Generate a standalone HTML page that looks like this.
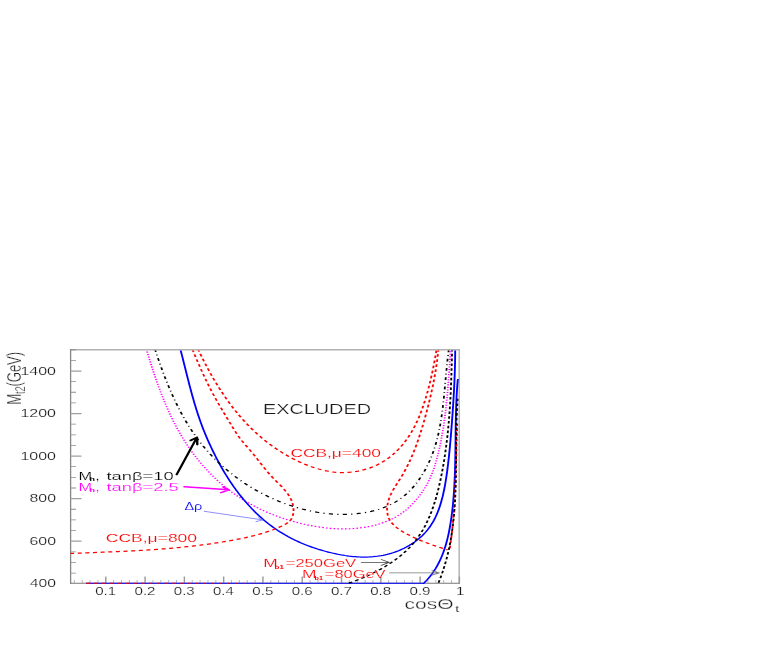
<!DOCTYPE html>
<html><head><meta charset="utf-8"><title>plot</title>
<style>html,body{margin:0;padding:0;background:#fff;width:763px;height:654px;overflow:hidden;font-family:"Liberation Sans",sans-serif}</style>
</head><body>
<svg width="763" height="654" viewBox="0 0 763 654" style="position:absolute;left:0;top:0;will-change:transform" font-family="Liberation Sans, sans-serif">
<defs><clipPath id="cp"><rect x="47.00" y="350.4" width="259.53" height="233.5"/></clipPath></defs>
<g transform="scale(1.500 1)" opacity="0.999">
<g fill="none">
<path d="M47.00 349.70 H306.20" stroke="#b2b2b2" stroke-width="1.4"/>
<path d="M306.13 349.00 V584.00" stroke="#b0b0b0" stroke-width="0.93"/>
<path d="M47.07 349.00 V583.80" stroke="#868686" stroke-width="0.87"/>
<path d="M46.67 583.30 H306.53" stroke="#777" stroke-width="1.0"/>
<path d="M49.57 583.3 v-3.3M54.81 583.3 v-3.3M60.05 583.3 v-3.3M65.29 583.3 v-3.3M75.77 583.3 v-3.3M81.00 583.3 v-3.3M86.24 583.3 v-3.3M91.48 583.3 v-3.3M101.96 583.3 v-3.3M107.20 583.3 v-3.3M112.44 583.3 v-3.3M117.67 583.3 v-3.3M128.15 583.3 v-3.3M133.39 583.3 v-3.3M138.63 583.3 v-3.3M143.87 583.3 v-3.3M154.35 583.3 v-3.3M159.58 583.3 v-3.3M164.82 583.3 v-3.3M170.06 583.3 v-3.3M180.54 583.3 v-3.3M185.78 583.3 v-3.3M191.02 583.3 v-3.3M196.25 583.3 v-3.3M206.73 583.3 v-3.3M211.97 583.3 v-3.3M217.21 583.3 v-3.3M222.45 583.3 v-3.3M232.93 583.3 v-3.3M238.16 583.3 v-3.3M243.40 583.3 v-3.3M248.64 583.3 v-3.3M259.12 583.3 v-3.3M264.36 583.3 v-3.3M269.60 583.3 v-3.3M274.83 583.3 v-3.3M285.31 583.3 v-3.3M290.55 583.3 v-3.3M295.79 583.3 v-3.3M301.03 583.3 v-3.3" stroke="#999" stroke-width="0.55"/>
<path d="M70.53 583.3 v-6.7M96.72 583.3 v-6.7M122.91 583.3 v-6.7M149.11 583.3 v-6.7M175.30 583.3 v-6.7M201.49 583.3 v-6.7M227.69 583.3 v-6.7M253.88 583.3 v-6.7M280.07 583.3 v-6.7M306.27 583.3 v-6.7" stroke="#9a9a9a" stroke-width="0.95"/>
<path d="M47.00 573.07 h3.67M47.00 562.43 h3.67M47.00 551.80 h3.67M47.00 530.53 h3.67M47.00 519.89 h3.67M47.00 509.26 h3.67M47.00 487.99 h3.67M47.00 477.35 h3.67M47.00 466.72 h3.67M47.00 445.45 h3.67M47.00 434.81 h3.67M47.00 424.18 h3.67M47.00 402.91 h3.67M47.00 392.27 h3.67M47.00 381.64 h3.67M47.00 360.37 h3.67M47.00 349.73 h3.67" stroke="#8c8c8c" stroke-width="0.8"/>
<path d="M47.00 541.16 h7.33M47.00 498.62 h7.33M47.00 456.08 h7.33M47.00 413.54 h7.33M47.00 371.00 h7.33" stroke="#a0a0a0" stroke-width="1.25"/>
</g>
<g clip-path="url(#cp)" fill="none" stroke-linecap="butt" stroke-linejoin="round">
<path d="M97.59 349.00 L97.97 350.92 L98.35 352.84 L98.73 354.75 L99.12 356.67 L99.51 358.59 L99.91 360.51 L100.31 362.43 L100.71 364.35 L101.11 366.27 L101.53 368.19 L101.94 370.10 L102.36 372.02 L102.78 373.93 L103.21 375.84 L103.65 377.75 L104.09 379.65 L104.53 381.56 L104.98 383.46 L105.44 385.36 L105.90 387.25 L106.37 389.14 L106.84 391.03 L107.33 392.92 L107.81 394.80 L108.31 396.67 L108.81 398.54 L109.32 400.41 L109.83 402.27 L110.35 404.13 L110.88 405.98 L111.42 407.83 L111.96 409.66 L112.52 411.50 L113.08 413.33 L113.65 415.15 L114.23 416.96 L114.81 418.77 L115.41 420.57 L116.01 422.36 L116.63 424.15 L117.25 425.93 L117.88 427.70 L118.52 429.46 L119.17 431.21 L119.83 432.96 L120.50 434.69 L121.19 436.42 L121.88 438.14 L122.58 439.84 L123.29 441.54 L124.02 443.23 L124.75 444.91 L125.50 446.58 L126.25 448.23 L127.02 449.88 L127.80 451.51 L128.60 453.14 L129.40 454.75 L130.22 456.35 L131.04 457.94 L131.88 459.51 L132.73 461.08 L133.59 462.63 L134.46 464.16 L135.35 465.69 L136.24 467.19 L137.15 468.69 L138.06 470.17 L138.99 471.63 L139.92 473.08 L140.87 474.52 L141.83 475.94 L142.80 477.34 L143.77 478.73 L144.76 480.10 L145.76 481.45 L146.77 482.78 L147.79 484.10 L148.81 485.40 L149.85 486.68 L150.89 487.95 L151.95 489.19 L153.01 490.42 L154.09 491.62 L155.17 492.81 L156.26 493.98 L157.36 495.12 L158.47 496.25 L159.59 497.36 L160.71 498.45 L161.85 499.52 L162.99 500.57 L164.13 501.61 L165.29 502.62 L166.45 503.61 L167.63 504.59 L168.80 505.54 L169.99 506.48 L171.18 507.40 L172.38 508.29 L173.58 509.17 L174.80 510.03 L176.01 510.87 L177.24 511.70 L178.47 512.50 L179.70 513.28 L180.94 514.05 L182.19 514.80 L183.44 515.53 L184.70 516.24 L185.96 516.93 L187.22 517.60 L188.49 518.25 L189.77 518.89 L191.05 519.50 L192.33 520.10 L193.62 520.68 L194.91 521.24 L196.20 521.78 L197.50 522.30 L198.80 522.81 L200.11 523.30 L201.42 523.77 L202.73 524.22 L204.04 524.65 L205.36 525.06 L206.68 525.46 L208.00 525.83 L209.32 526.19 L210.65 526.53 L211.97 526.84 L213.30 527.14 L214.63 527.41 L215.97 527.67 L217.30 527.90 L218.64 528.10 L219.97 528.29 L221.31 528.45 L222.65 528.58 L223.99 528.70 L225.33 528.78 L226.67 528.84 L228.01 528.88 L229.35 528.88 L230.70 528.86 L232.04 528.81 L233.38 528.74 L234.72 528.63 L236.07 528.50 L237.41 528.33 L238.75 528.14 L240.09 527.91 L241.43 527.65 L242.76 527.36 L244.09 527.04 L245.42 526.68 L246.74 526.28 L248.05 525.85 L249.36 525.38 L250.66 524.88 L251.95 524.34 L253.23 523.76 L254.50 523.14 L255.76 522.48 L257.01 521.77 L258.24 521.03 L259.46 520.24 L260.67 519.41 L261.86 518.54 L263.04 517.62 L264.20 516.65 L265.34 515.64 L266.46 514.58 L267.57 513.47 L268.65 512.31 L269.72 511.11 L270.76 509.85 L271.78 508.54 L272.78 507.19 L273.76 505.80 L274.72 504.36 L275.66 502.89 L276.57 501.38 L277.46 499.85 L278.34 498.28 L279.19 496.68 L280.02 495.06 L280.82 493.42 L281.60 491.75 L282.35 490.05 L283.08 488.34 L283.79 486.60 L284.46 484.84 L285.11 483.06 L285.73 481.27 L286.32 479.46 L286.89 477.63 L287.42 475.79 L287.93 473.94 L288.41 472.07 L288.87 470.19 L289.31 468.30 L289.73 466.40 L290.13 464.49 L290.51 462.57 L290.88 460.64 L291.23 458.71 L291.57 456.77 L291.90 454.83 L292.22 452.88 L292.53 450.93 L292.83 448.97 L293.13 447.01 L293.41 445.05 L293.68 443.08 L293.95 441.11 L294.21 439.14 L294.46 437.17 L294.70 435.19 L294.93 433.20 L295.16 431.22 L295.38 429.23 L295.59 427.24 L295.80 425.25 L296.00 423.26 L296.19 421.26 L296.38 419.26 L296.55 417.26 L296.73 415.26 L296.90 413.26 L297.06 411.25 L297.22 409.25 L297.37 407.24 L297.52 405.23 L297.66 403.22 L297.80 401.21 L297.93 399.20 L298.06 397.19 L298.18 395.17 L298.30 393.16 L298.42 391.15 L298.54 389.13 L298.65 387.12 L298.76 385.11 L298.86 383.09 L298.97 381.08 L299.07 379.07 L299.16 377.06 L299.26 375.04 L299.36 373.03 L299.45 371.02 L299.54 369.02 L299.63 367.01 L299.72 365.00 L299.81 363.00 L299.90 360.99 L299.98 358.99 L300.07 356.99 L300.16 355.00 L300.25 353.00 L300.33 351.01 L300.42 349.01" stroke="#ff00ff" stroke-width="1.2" stroke-dasharray="1.1 1.45"/>
<path d="M120.21 349.00 L120.55 350.94 L120.88 352.88 L121.22 354.82 L121.55 356.77 L121.88 358.72 L122.20 360.67 L122.53 362.62 L122.86 364.57 L123.18 366.52 L123.51 368.47 L123.83 370.42 L124.16 372.38 L124.49 374.33 L124.82 376.29 L125.15 378.24 L125.48 380.19 L125.81 382.15 L126.15 384.10 L126.49 386.05 L126.83 388.00 L127.18 389.94 L127.53 391.89 L127.88 393.83 L128.24 395.77 L128.60 397.71 L128.97 399.65 L129.34 401.58 L129.72 403.51 L130.10 405.44 L130.49 407.36 L130.89 409.28 L131.29 411.19 L131.70 413.11 L132.12 415.01 L132.55 416.91 L132.98 418.81 L133.42 420.70 L133.87 422.59 L134.33 424.47 L134.79 426.35 L135.27 428.22 L135.76 430.08 L136.25 431.94 L136.76 433.79 L137.27 435.64 L137.79 437.48 L138.32 439.32 L138.86 441.15 L139.41 442.97 L139.97 444.79 L140.53 446.61 L141.10 448.41 L141.68 450.22 L142.27 452.02 L142.86 453.81 L143.46 455.60 L144.07 457.39 L144.69 459.16 L145.31 460.94 L145.95 462.70 L146.59 464.46 L147.24 466.22 L147.90 467.97 L148.57 469.71 L149.24 471.44 L149.93 473.16 L150.63 474.88 L151.34 476.59 L152.05 478.29 L152.78 479.98 L153.52 481.67 L154.27 483.34 L155.03 485.00 L155.81 486.66 L156.59 488.30 L157.38 489.93 L158.19 491.55 L159.01 493.16 L159.83 494.76 L160.67 496.34 L161.52 497.91 L162.38 499.47 L163.25 501.01 L164.13 502.54 L165.02 504.05 L165.92 505.55 L166.84 507.03 L167.76 508.49 L168.70 509.94 L169.64 511.36 L170.60 512.78 L171.57 514.17 L172.55 515.54 L173.53 516.90 L174.53 518.23 L175.54 519.54 L176.57 520.84 L177.60 522.11 L178.64 523.36 L179.69 524.59 L180.76 525.79 L181.83 526.98 L182.92 528.14 L184.01 529.27 L185.12 530.38 L186.23 531.47 L187.36 532.53 L188.50 533.57 L189.64 534.59 L190.80 535.58 L191.96 536.55 L193.14 537.49 L194.32 538.42 L195.51 539.32 L196.71 540.20 L197.92 541.05 L199.13 541.88 L200.36 542.69 L201.59 543.48 L202.83 544.25 L204.07 544.99 L205.32 545.72 L206.58 546.42 L207.84 547.10 L209.12 547.76 L210.39 548.40 L211.67 549.02 L212.96 549.61 L214.25 550.19 L215.55 550.75 L216.85 551.29 L218.16 551.80 L219.47 552.30 L220.79 552.78 L222.10 553.23 L223.43 553.67 L224.75 554.09 L226.08 554.48 L227.41 554.85 L228.75 555.19 L230.08 555.51 L231.42 555.80 L232.76 556.07 L234.10 556.30 L235.44 556.51 L236.78 556.68 L238.12 556.82 L239.46 556.93 L240.81 557.01 L242.15 557.05 L243.49 557.05 L244.82 557.02 L246.16 556.95 L247.49 556.83 L248.83 556.68 L250.16 556.49 L251.48 556.25 L252.81 555.98 L254.13 555.65 L255.45 555.28 L256.76 554.87 L258.07 554.41 L259.37 553.90 L260.66 553.34 L261.95 552.74 L263.23 552.10 L264.49 551.41 L265.74 550.67 L266.99 549.89 L268.21 549.07 L269.42 548.20 L270.62 547.29 L271.79 546.33 L272.95 545.33 L274.09 544.29 L275.20 543.20 L276.30 542.07 L277.37 540.90 L278.41 539.68 L279.43 538.43 L280.43 537.13 L281.39 535.79 L282.33 534.41 L283.23 532.99 L284.11 531.53 L284.95 530.02 L285.75 528.48 L286.53 526.90 L287.26 525.27 L287.97 523.62 L288.64 521.92 L289.28 520.20 L289.89 518.44 L290.48 516.65 L291.03 514.83 L291.56 512.99 L292.06 511.12 L292.54 509.23 L292.99 507.32 L293.42 505.39 L293.82 503.43 L294.21 501.47 L294.57 499.48 L294.92 497.49 L295.25 495.48 L295.56 493.46 L295.85 491.44 L296.13 489.40 L296.40 487.36 L296.65 485.32 L296.89 483.28 L297.12 481.24 L297.33 479.20 L297.54 477.16 L297.74 475.13 L297.93 473.10 L298.12 471.08 L298.30 469.07 L298.47 467.06 L298.64 465.06 L298.80 463.06 L298.95 461.07 L299.10 459.08 L299.25 457.09 L299.39 455.11 L299.52 453.13 L299.66 451.15 L299.78 449.17 L299.91 447.20 L300.03 445.22 L300.15 443.25 L300.26 441.28 L300.38 439.30 L300.49 437.32 L300.60 435.35 L300.70 433.37 L300.81 431.39 L300.91 429.40 L301.02 427.41 L301.12 425.42 L301.22 423.43 L301.32 421.43 L301.42 419.43 L301.52 417.43 L301.62 415.43 L301.71 413.42 L301.81 411.41 L301.90 409.40 L301.99 407.39 L302.08 405.38 L302.16 403.37 L302.25 401.35 L302.33 399.34 L302.41 397.32 L302.49 395.30 L302.56 393.28 L302.64 391.26 L302.71 389.24 L302.78 387.22 L302.84 385.20 L302.90 383.18 L302.96 381.17 L303.02 379.15 L303.07 377.13 L303.13 375.11 L303.17 373.09 L303.22 371.08 L303.26 369.06 L303.30 367.05 L303.33 365.04 L303.36 363.03 L303.39 361.02 L303.41 359.01 L303.43 357.01 L303.45 355.01 L303.46 353.01 L303.46 351.01 L303.47 349.01" stroke="#0000ff" stroke-width="1.25"/>
<path d="M305.24 378.95 L305.12 380.92 L305.01 382.90 L304.90 384.88 L304.80 386.87 L304.71 388.86 L304.62 390.85 L304.54 392.85 L304.47 394.85 L304.39 396.85 L304.33 398.86 L304.27 400.87 L304.21 402.88 L304.16 404.89 L304.11 406.91 L304.07 408.93 L304.03 410.95 L303.99 412.97 L303.96 415.00 L303.92 417.03 L303.90 419.06 L303.87 421.09 L303.85 423.13 L303.82 425.16 L303.80 427.20 L303.78 429.24 L303.76 431.28 L303.75 433.32 L303.73 435.37 L303.72 437.41 L303.70 439.46 L303.68 441.51 L303.67 443.55 L303.65 445.60 L303.64 447.65 L303.62 449.70 L303.60 451.75 L303.58 453.80 L303.56 455.85 L303.53 457.91 L303.51 459.96 L303.48 462.01 L303.45 464.06 L303.41 466.11 L303.38 468.16 L303.34 470.22 L303.29 472.27 L303.25 474.32 L303.20 476.37 L303.14 478.41 L303.08 480.46 L303.01 482.51 L302.95 484.56 L302.87 486.60 L302.79 488.64 L302.70 490.69 L302.61 492.73 L302.51 494.77 L302.41 496.81 L302.30 498.84 L302.18 500.88 L302.06 502.91 L301.93 504.94 L301.79 506.97 L301.64 509.00 L301.48 511.02 L301.32 513.04 L301.15 515.06 L300.97 517.08 L300.78 519.10 L300.58 521.11 L300.37 523.12 L300.15 525.12 L299.92 527.12 L299.68 529.12 L299.42 531.11 L299.16 533.09 L298.87 535.06 L298.58 537.03 L298.26 538.99 L297.93 540.93 L297.58 542.87 L297.22 544.80 L296.83 546.71 L296.42 548.61 L296.00 550.49 L295.55 552.36 L295.08 554.22 L294.59 556.06 L294.07 557.88 L293.53 559.69 L292.96 561.48 L292.37 563.24 L291.75 564.99 L291.10 566.72 L290.43 568.43 L289.72 570.11 L288.99 571.77 L288.22 573.41 L287.42 575.02 L286.59 576.61 L285.73 578.17 L284.83 579.70 L283.90 581.21 L282.93 582.69 L281.92 584.14" stroke="#0000ff" stroke-width="1.25"/>
<path d="M282.00 583.3 H57.33" stroke="#0000ff" stroke-width="1.05"/>
<path d="M132.02 349.05 L132.59 350.86 L133.16 352.67 L133.74 354.48 L134.33 356.29 L134.92 358.09 L135.52 359.89 L136.13 361.68 L136.75 363.48 L137.37 365.27 L137.99 367.05 L138.63 368.83 L139.27 370.60 L139.92 372.37 L140.58 374.14 L141.24 375.89 L141.91 377.65 L142.59 379.39 L143.28 381.13 L143.97 382.87 L144.68 384.59 L145.39 386.31 L146.11 388.02 L146.83 389.72 L147.57 391.42 L148.31 393.10 L149.06 394.78 L149.82 396.44 L150.59 398.10 L151.36 399.75 L152.15 401.39 L152.94 403.02 L153.74 404.64 L154.55 406.24 L155.37 407.84 L156.20 409.42 L157.04 410.99 L157.89 412.55 L158.74 414.10 L159.61 415.64 L160.49 417.16 L161.37 418.67 L162.26 420.17 L163.17 421.65 L164.08 423.12 L165.00 424.57 L165.94 426.01 L166.88 427.44 L167.83 428.85 L168.80 430.24 L169.77 431.62 L170.75 432.98 L171.75 434.33 L172.75 435.66 L173.77 436.97 L174.79 438.27 L175.83 439.55 L176.88 440.81 L177.93 442.05 L179.00 443.28 L180.08 444.49 L181.16 445.67 L182.26 446.84 L183.37 447.99 L184.48 449.12 L185.61 450.24 L186.74 451.33 L187.88 452.40 L189.03 453.45 L190.19 454.48 L191.36 455.49 L192.54 456.48 L193.73 457.44 L194.92 458.39 L196.12 459.31 L197.33 460.21 L198.55 461.09 L199.78 461.95 L201.01 462.78 L202.25 463.58 L203.50 464.37 L204.75 465.12 L206.01 465.84 L207.28 466.54 L208.55 467.20 L209.83 467.83 L211.11 468.43 L212.40 468.99 L213.70 469.52 L215.00 470.01 L216.30 470.46 L217.61 470.87 L218.92 471.24 L220.24 471.56 L221.56 471.85 L222.89 472.09 L224.21 472.28 L225.54 472.42 L226.88 472.52 L228.21 472.56 L229.55 472.56 L230.89 472.50 L232.23 472.39 L233.57 472.23 L234.91 472.02 L236.25 471.76 L237.58 471.44 L238.91 471.08 L240.23 470.66 L241.55 470.20 L242.85 469.68 L244.15 469.12 L245.43 468.50 L246.71 467.84 L247.97 467.12 L249.22 466.36 L250.45 465.54 L251.67 464.68 L252.87 463.77 L254.05 462.81 L255.21 461.80 L256.35 460.75 L257.47 459.64 L258.56 458.49 L259.64 457.30 L260.70 456.06 L261.73 454.78 L262.74 453.46 L263.73 452.11 L264.69 450.71 L265.64 449.29 L266.56 447.82 L267.46 446.33 L268.34 444.80 L269.19 443.24 L270.02 441.66 L270.82 440.04 L271.61 438.41 L272.37 436.75 L273.10 435.06 L273.82 433.36 L274.50 431.63 L275.17 429.89 L275.82 428.12 L276.44 426.34 L277.05 424.55 L277.64 422.73 L278.20 420.90 L278.75 419.06 L279.28 417.21 L279.80 415.34 L280.30 413.46 L280.78 411.57 L281.25 409.67 L281.71 407.77 L282.15 405.85 L282.58 403.93 L283.00 402.00 L283.41 400.07 L283.80 398.14 L284.19 396.20 L284.56 394.26 L284.93 392.32 L285.29 390.37 L285.64 388.42 L285.98 386.47 L286.31 384.52 L286.63 382.56 L286.95 380.61 L287.25 378.65 L287.55 376.68 L287.85 374.72 L288.13 372.76 L288.41 370.79 L288.69 368.82 L288.95 366.85 L289.21 364.88 L289.47 362.90 L289.72 360.93 L289.96 358.95 L290.20 356.97 L290.43 354.99 L290.66 353.01 L290.89 351.02 L291.11 349.04" stroke="#ff0000" stroke-width="1.25" stroke-dasharray="2.7 2.4"/>
<path d="M46.69 553.44 L48.03 553.37 L49.36 553.29 L50.69 553.22 L52.02 553.14 L53.36 553.07 L54.69 553.00 L56.03 552.92 L57.36 552.85 L58.70 552.77 L60.04 552.70 L61.37 552.62 L62.71 552.55 L64.05 552.47 L65.39 552.39 L66.73 552.32 L68.07 552.24 L69.41 552.16 L70.74 552.07 L72.08 551.99 L73.43 551.91 L74.77 551.82 L76.11 551.74 L77.45 551.65 L78.79 551.56 L80.13 551.46 L81.47 551.37 L82.81 551.27 L84.15 551.18 L85.50 551.08 L86.84 550.97 L88.18 550.87 L89.52 550.76 L90.86 550.65 L92.20 550.53 L93.54 550.42 L94.89 550.30 L96.23 550.18 L97.57 550.05 L98.91 549.92 L100.25 549.79 L101.59 549.66 L102.93 549.52 L104.27 549.37 L105.61 549.23 L106.95 549.08 L108.29 548.92 L109.63 548.77 L110.96 548.60 L112.30 548.44 L113.64 548.27 L114.98 548.09 L116.31 547.91 L117.65 547.73 L118.98 547.54 L120.32 547.35 L121.65 547.15 L122.99 546.94 L124.32 546.74 L125.65 546.52 L126.98 546.30 L128.31 546.08 L129.64 545.85 L130.97 545.61 L132.30 545.37 L133.63 545.12 L134.96 544.87 L136.29 544.61 L137.61 544.35 L138.94 544.07 L140.26 543.80 L141.58 543.51 L142.91 543.22 L144.23 542.93 L145.55 542.62 L146.87 542.31 L148.18 541.99 L149.50 541.67 L150.82 541.34 L152.13 541.00 L153.45 540.65 L154.76 540.30 L156.07 539.94 L157.38 539.57 L158.69 539.19 L160.00 538.80 L161.31 538.40 L162.61 537.99 L163.92 537.57 L165.22 537.13 L166.52 536.67 L167.82 536.20 L169.12 535.71 L170.42 535.21 L171.71 534.68 L173.01 534.14 L174.30 533.57 L175.59 532.98 L176.88 532.37 L178.17 531.73 L179.45 531.07 L180.74 530.39 L182.02 529.68 L183.30 528.93 L184.58 528.16 L185.86 527.36 L187.14 526.53 L188.40 525.66 L189.62 524.72 L190.78 523.71 L191.86 522.59 L192.84 521.36 L193.70 520.00 L194.41 518.48 L194.95 516.80 L195.35 514.99 L195.59 513.07 L195.70 511.09 L195.68 509.06 L195.55 507.03 L195.30 505.02 L194.96 503.07 L194.52 501.19 L194.00 499.36 L193.40 497.60 L192.73 495.89 L192.00 494.23 L191.22 492.60 L190.38 491.02 L189.50 489.47 L188.59 487.95 L187.65 486.45 L186.69 484.96 L185.71 483.49 L184.73 482.03 L183.75 480.57 L182.77 479.11 L181.81 477.64 L180.87 476.16 L179.96 474.66 L179.07 473.15 L178.20 471.63 L177.34 470.09 L176.50 468.55 L175.68 467.00 L174.86 465.45 L174.05 463.89 L173.24 462.33 L172.43 460.76 L171.62 459.20 L170.80 457.64 L169.98 456.09 L169.14 454.54 L168.30 453.00 L167.43 451.46 L166.55 449.94 L165.66 448.42 L164.76 446.90 L163.86 445.38 L162.97 443.84 L162.09 442.30 L161.23 440.74 L160.40 439.15 L159.59 437.54 L158.81 435.91 L158.05 434.26 L157.31 432.59 L156.59 430.91 L155.88 429.21 L155.18 427.51 L154.48 425.80 L153.79 424.08 L153.10 422.36 L152.41 420.65 L151.72 418.93 L151.03 417.21 L150.33 415.48 L149.64 413.76 L148.96 412.04 L148.27 410.31 L147.58 408.58 L146.90 406.84 L146.23 405.11 L145.55 403.36 L144.88 401.62 L144.22 399.87 L143.56 398.12 L142.91 396.36 L142.27 394.59 L141.64 392.82 L141.01 391.04 L140.39 389.26 L139.78 387.47 L139.17 385.68 L138.57 383.88 L137.98 382.08 L137.39 380.27 L136.81 378.46 L136.24 376.64 L135.67 374.82 L135.11 372.99 L134.55 371.17 L133.99 369.33 L133.45 367.50 L132.90 365.66 L132.36 363.82 L131.83 361.98 L131.29 360.13 L130.77 358.28 L130.24 356.43 L129.72 354.58 L129.20 352.73 L128.69 350.87 L128.17 349.02" stroke="#ff0000" stroke-width="1.25" stroke-dasharray="2.7 2.4"/>
<path d="M292.28 349.01 L292.15 351.02 L292.01 353.04 L291.86 355.05 L291.71 357.06 L291.54 359.07 L291.37 361.07 L291.19 363.08 L290.99 365.09 L290.80 367.09 L290.59 369.09 L290.37 371.10 L290.15 373.10 L289.92 375.09 L289.68 377.09 L289.44 379.09 L289.18 381.08 L288.92 383.07 L288.66 385.06 L288.38 387.05 L288.10 389.04 L287.81 391.02 L287.52 393.00 L287.22 394.98 L286.91 396.96 L286.60 398.94 L286.28 400.91 L285.96 402.88 L285.63 404.85 L285.30 406.82 L284.95 408.78 L284.61 410.74 L284.26 412.70 L283.90 414.66 L283.54 416.61 L283.18 418.57 L282.81 420.51 L282.44 422.46 L282.06 424.40 L281.68 426.34 L281.29 428.28 L280.89 430.21 L280.49 432.14 L280.08 434.06 L279.67 435.98 L279.25 437.90 L278.81 439.81 L278.37 441.72 L277.92 443.62 L277.46 445.51 L276.99 447.40 L276.51 449.29 L276.02 451.16 L275.51 453.04 L274.99 454.90 L274.46 456.76 L273.92 458.61 L273.36 460.45 L272.78 462.29 L272.20 464.11 L271.59 465.93 L270.97 467.75 L270.34 469.55 L269.68 471.34 L269.01 473.13 L268.32 474.91 L267.61 476.67 L266.89 478.43 L266.14 480.18 L265.39 481.93 L264.64 483.67 L263.90 485.43 L263.17 487.19 L262.46 488.96 L261.78 490.75 L261.14 492.56 L260.54 494.39 L259.99 496.25 L259.50 498.15 L259.07 500.07 L258.71 502.01 L258.42 503.95 L258.22 505.90 L258.09 507.85 L258.06 509.77 L258.13 511.68 L258.29 513.55 L258.56 515.38 L258.94 517.16 L259.44 518.89 L260.05 520.55 L260.79 522.14 L261.64 523.66 L262.58 525.11 L263.61 526.50 L264.70 527.82 L265.84 529.09 L267.02 530.29 L268.23 531.44 L269.46 532.54 L270.71 533.58 L271.97 534.59 L273.23 535.55 L274.48 536.47 L275.73 537.36 L276.97 538.21 L278.21 539.04 L279.45 539.83 L280.68 540.61 L281.91 541.35 L283.14 542.08 L284.38 542.79 L285.61 543.48 L286.86 544.16 L288.10 544.82 L289.36 545.47 L290.62 546.12 L291.89 546.75 L293.17 547.39 L294.46 548.02 L295.77 548.66 L297.09 549.29 L298.43 549.93" stroke="#ff0000" stroke-width="1.25" stroke-dasharray="2.7 2.4"/>
<path d="M299.87 548.32 L300.07 546.30 L300.27 544.27 L300.46 542.25 L300.64 540.23 L300.81 538.20 L300.98 536.17 L301.14 534.15 L301.29 532.12 L301.44 530.09 L301.58 528.06 L301.72 526.03 L301.85 523.99 L301.98 521.96 L302.10 519.93 L302.22 517.89 L302.33 515.86 L302.43 513.82 L302.53 511.79 L302.63 509.75 L302.73 507.71 L302.81 505.68 L302.90 503.64 L302.98 501.60 L303.06 499.56 L303.13 497.52 L303.20 495.48 L303.27 493.44 L303.33 491.40 L303.40 489.36 L303.45 487.32 L303.51 485.27 L303.56 483.23 L303.62 481.19 L303.67 479.15 L303.71 477.10 L303.76 475.06 L303.80 473.02 L303.84 470.97 L303.89 468.93 L303.93 466.89 L303.97 464.84 L304.00 462.80 L304.04 460.76 L304.08 458.71 L304.11 456.67 L304.15 454.63 L304.19 452.58 L304.22 450.54 L304.26 448.50 L304.30 446.45 L304.33 444.41 L304.37 442.37 L304.41 440.33 L304.45 438.29 L304.49 436.25 L304.54 434.20 L304.58 432.16 L304.63 430.12 L304.67 428.08 L304.72 426.05 L304.77 424.01" stroke="#ff0000" stroke-width="1.25" stroke-dasharray="2.7 2.4"/>
<path d="M103.31 349.14 L103.72 351.01 L104.13 352.88 L104.55 354.76 L104.97 356.63 L105.40 358.51 L105.83 360.39 L106.27 362.27 L106.71 364.15 L107.16 366.04 L107.62 367.92 L108.08 369.80 L108.54 371.68 L109.01 373.56 L109.49 375.44 L109.97 377.31 L110.46 379.19 L110.96 381.06 L111.46 382.93 L111.97 384.80 L112.49 386.66 L113.02 388.52 L113.55 390.38 L114.09 392.23 L114.63 394.08 L115.19 395.92 L115.75 397.76 L116.32 399.59 L116.90 401.42 L117.48 403.24 L118.08 405.05 L118.68 406.86 L119.29 408.66 L119.91 410.45 L120.54 412.23 L121.18 414.01 L121.83 415.77 L122.49 417.53 L123.16 419.28 L123.84 421.02 L124.52 422.75 L125.22 424.47 L125.93 426.18 L126.65 427.87 L127.37 429.56 L128.11 431.23 L128.86 432.90 L129.62 434.55 L130.40 436.19 L131.18 437.81 L131.97 439.42 L132.78 441.02 L133.60 442.61 L134.43 444.18 L135.27 445.73 L136.12 447.28 L136.98 448.80 L137.86 450.32 L138.74 451.82 L139.64 453.30 L140.55 454.77 L141.47 456.22 L142.39 457.66 L143.33 459.09 L144.28 460.50 L145.24 461.89 L146.21 463.27 L147.19 464.63 L148.18 465.98 L149.18 467.31 L150.19 468.63 L151.20 469.93 L152.23 471.21 L153.26 472.48 L154.31 473.73 L155.36 474.96 L156.42 476.18 L157.49 477.38 L158.57 478.57 L159.66 479.73 L160.76 480.88 L161.86 482.02 L162.97 483.13 L164.09 484.23 L165.22 485.32 L166.35 486.38 L167.49 487.43 L168.64 488.46 L169.80 489.47 L170.96 490.46 L172.13 491.44 L173.31 492.40 L174.49 493.34 L175.68 494.26 L176.87 495.16 L178.08 496.05 L179.28 496.91 L180.50 497.76 L181.72 498.59 L182.94 499.40 L184.17 500.19 L185.41 500.96 L186.65 501.71 L187.90 502.44 L189.15 503.16 L190.41 503.85 L191.67 504.52 L192.94 505.18 L194.21 505.81 L195.48 506.43 L196.76 507.02 L198.05 507.60 L199.33 508.15 L200.63 508.68 L201.92 509.19 L203.22 509.68 L204.52 510.15 L205.83 510.59 L207.14 511.01 L208.45 511.41 L209.77 511.78 L211.09 512.14 L212.41 512.46 L213.74 512.77 L215.07 513.05 L216.40 513.30 L217.73 513.53 L219.07 513.73 L220.41 513.91 L221.75 514.06 L223.10 514.18 L224.44 514.28 L225.79 514.35 L227.14 514.39 L228.49 514.40 L229.85 514.39 L231.20 514.35 L232.56 514.28 L233.92 514.17 L235.28 514.04 L236.64 513.88 L237.99 513.69 L239.35 513.46 L240.70 513.21 L242.04 512.91 L243.39 512.59 L244.72 512.23 L246.05 511.83 L247.37 511.40 L248.68 510.93 L249.99 510.42 L251.28 509.88 L252.56 509.29 L253.83 508.67 L255.09 508.01 L256.33 507.30 L257.55 506.55 L258.77 505.76 L259.96 504.93 L261.14 504.05 L262.30 503.13 L263.44 502.16 L264.56 501.15 L265.66 500.09 L266.73 498.98 L267.79 497.83 L268.82 496.63 L269.84 495.39 L270.83 494.11 L271.79 492.78 L272.74 491.42 L273.67 490.02 L274.57 488.58 L275.45 487.11 L276.32 485.60 L277.16 484.06 L277.98 482.49 L278.77 480.89 L279.55 479.26 L280.31 477.61 L281.04 475.92 L281.75 474.22 L282.45 472.49 L283.12 470.73 L283.77 468.96 L284.40 467.17 L285.01 465.36 L285.60 463.53 L286.17 461.69 L286.72 459.83 L287.25 457.96 L287.75 456.08 L288.24 454.19 L288.71 452.29 L289.16 450.39 L289.58 448.47 L289.99 446.54 L290.39 444.61 L290.76 442.67 L291.12 440.72 L291.47 438.77 L291.79 436.81 L292.11 434.84 L292.41 432.87 L292.69 430.89 L292.96 428.91 L293.22 426.92 L293.47 424.93 L293.70 422.93 L293.93 420.93 L294.14 418.93 L294.34 416.92 L294.54 414.91 L294.73 412.90 L294.90 410.89 L295.07 408.87 L295.24 406.86 L295.39 404.84 L295.54 402.82 L295.69 400.80 L295.83 398.79 L295.97 396.77 L296.10 394.75 L296.23 392.74 L296.36 390.72 L296.48 388.71 L296.60 386.70 L296.73 384.69 L296.85 382.69 L296.97 380.69 L297.09 378.69 L297.22 376.69 L297.34 374.70 L297.47 372.71 L297.60 370.72 L297.73 368.74 L297.86 366.76 L297.99 364.78 L298.13 362.81 L298.27 360.84 L298.42 358.88 L298.57 356.92 L298.72 354.96 L298.88 353.01 L299.05 351.06 L299.22 349.11" stroke="#000000" stroke-width="1.2" stroke-dasharray="2.8 2.85 0.8 2.85"/>
<path d="M301.39 348.99 L301.36 351.02 L301.33 353.05 L301.30 355.08 L301.26 357.10 L301.23 359.13 L301.19 361.15 L301.16 363.17 L301.12 365.20 L301.08 367.22 L301.04 369.24 L301.00 371.25 L300.96 373.27 L300.92 375.29 L300.87 377.30 L300.82 379.32 L300.77 381.33 L300.72 383.35 L300.67 385.36 L300.61 387.37 L300.55 389.38 L300.49 391.39 L300.43 393.40 L300.36 395.41 L300.30 397.42 L300.22 399.43 L300.15 401.44 L300.07 403.44 L299.99 405.45 L299.91 407.45 L299.82 409.46 L299.73 411.46 L299.63 413.47 L299.53 415.47 L299.43 417.47 L299.32 419.48 L299.21 421.48 L299.09 423.48 L298.97 425.48 L298.85 427.48 L298.72 429.48 L298.59 431.48 L298.45 433.48 L298.31 435.48 L298.16 437.48 L298.01 439.48 L297.85 441.48 L297.68 443.48 L297.51 445.48 L297.34 447.48 L297.16 449.48 L296.97 451.48 L296.78 453.47 L296.58 455.47 L296.38 457.47 L296.17 459.47 L295.95 461.47 L295.73 463.47 L295.50 465.46 L295.27 467.46 L295.02 469.46 L294.77 471.46 L294.52 473.46 L294.25 475.46 L293.98 477.46 L293.70 479.46 L293.42 481.45 L293.12 483.45 L292.82 485.44 L292.51 487.44 L292.19 489.42 L291.85 491.41 L291.51 493.38 L291.16 495.35 L290.79 497.32 L290.41 499.27 L290.02 501.22 L289.61 503.16 L289.20 505.09 L288.76 507.01 L288.31 508.91 L287.85 510.81 L287.37 512.69 L286.88 514.56 L286.37 516.41 L285.84 518.25 L285.29 520.07 L284.72 521.87 L284.14 523.66 L283.54 525.43 L282.92 527.17 L282.27 528.90 L281.61 530.61 L280.92 532.30 L280.22 533.96 L279.49 535.60 L278.74 537.22 L277.96 538.81 L277.17 540.38 L276.34 541.92 L275.50 543.43 L274.63 544.92 L273.73 546.38 L272.82 547.82 L271.88 549.23 L270.93 550.61 L269.95 551.97 L268.95 553.30 L267.94 554.61 L266.91 555.89 L265.86 557.15 L264.79 558.38 L263.71 559.59 L262.61 560.78 L261.50 561.94 L260.38 563.07 L259.24 564.19 L258.09 565.28 L256.94 566.35 L255.77 567.39 L254.59 568.41 L253.40 569.41 L252.20 570.39 L251.00 571.34 L249.79 572.28 L248.57 573.19 L247.35 574.08 L246.12 574.95 L244.89 575.79 L243.66 576.62 L242.42 577.43 L241.18 578.21 L239.95 578.98 L238.71 579.72 L237.47 580.45 L236.23 581.15 L235.00 581.84 L233.77 582.50 L232.54 583.15" stroke="#000000" stroke-width="1.25" stroke-dasharray="2.6 2.2"/>
<path d="M305.07 398.69 L304.98 400.69 L304.90 402.69 L304.82 404.70 L304.74 406.71 L304.68 408.72 L304.61 410.73 L304.56 412.75 L304.50 414.77 L304.45 416.79 L304.41 418.81 L304.37 420.84 L304.33 422.86 L304.30 424.89 L304.27 426.92 L304.24 428.95 L304.22 430.99 L304.20 433.02 L304.18 435.06 L304.16 437.10 L304.15 439.14 L304.14 441.18 L304.12 443.22 L304.11 445.26 L304.10 447.30 L304.10 449.34 L304.09 451.39 L304.08 453.43 L304.07 455.48 L304.06 457.52 L304.05 459.57 L304.04 461.62 L304.03 463.66 L304.01 465.71 L304.00 467.76 L303.98 469.80 L303.97 471.85 L303.94 473.90 L303.92 475.94 L303.90 477.99 L303.87 480.03 L303.83 482.08 L303.80 484.12 L303.76 486.16 L303.72 488.21 L303.67 490.25 L303.61 492.29 L303.56 494.33 L303.50 496.36 L303.43 498.40 L303.36 500.43 L303.28 502.47 L303.19 504.50 L303.10 506.53 L303.00 508.56 L302.90 510.59 L302.79 512.61 L302.67 514.63 L302.55 516.65 L302.41 518.67 L302.27 520.69 L302.12 522.70 L301.97 524.72 L301.80 526.72 L301.62 528.73 L301.44 530.73 L301.25 532.74 L301.04 534.73 L300.83 536.73 L300.61 538.72 L300.37 540.71 L300.13 542.70 L299.88 544.68 L299.61 546.66 L299.33 548.64 L299.04 550.61 L298.74 552.58 L298.43 554.54 L298.10 556.50 L297.77 558.46 L297.42 560.41 L297.05 562.36 L296.68 564.31 L296.29 566.25 L295.88 568.19 L295.46 570.12 L295.03 572.05 L294.58 573.97 L294.12 575.89 L293.65 577.80 L293.15 579.71 L292.65 581.62 L292.12 583.51" stroke="#000000" stroke-width="1.25" stroke-dasharray="2.6 2.2"/>
</g>
<path d="M57.33 583.3 h3.07M62.57 583.3 h2.96M67.81 583.3 h2.85M73.05 583.3 h2.75M78.29 583.3 h2.64M83.53 583.3 h2.53M88.77 583.3 h2.42M94.01 583.3 h2.32M99.25 583.3 h2.21M104.49 583.3 h2.10M109.73 583.3 h2.00M114.97 583.3 h1.89M120.21 583.3 h1.78M125.45 583.3 h1.67M130.69 583.3 h1.57M135.93 583.3 h1.46M141.17 583.3 h1.35M146.41 583.3 h1.25M151.65 583.3 h1.14M156.89 583.3 h1.03M162.13 583.3 h0.93M167.37 583.3 h0.82M172.61 583.3 h0.71M177.85 583.3 h0.60" stroke="#ff0000" stroke-width="1.05" fill="none"/>
<g fill="none" stroke-linecap="round" stroke-linejoin="round">
<path d="M117.80 474.40 L131.33 437.30 M127.00 440.50 L131.33 437.30 L131.53 444.60" stroke="#000" stroke-width="1.6"/>
<path d="M122.87 486.80 L152.60 489.80 M148.67 486.90 L152.60 489.80 L147.33 492.60" stroke="#ff00ff" stroke-width="1.5"/>
<path d="M136.13 511.30 L175.13 519.90 M172.33 517.60 L175.13 519.90 L170.67 521.60" stroke="#6a6aff" stroke-width="0.6"/>
<path d="M240.87 562.45 L259.47 562.45 M254.20 559.50 L259.47 562.45 L254.20 565.40" stroke="#484848" stroke-width="0.8"/>
<path d="M259.60 572.90 L292.87 572.90 M288.00 570.60 L292.87 572.90 L288.00 575.20" stroke="#777" stroke-width="0.75"/>
</g>
<text x="63.47" y="595.50" font-size="10.10" fill="#1a1a1a" stroke="#fff" stroke-width="0.15" paint-order="fill stroke" textLength="14.02" lengthAdjust="spacingAndGlyphs">0.1</text>
<text x="89.66" y="595.50" font-size="10.10" fill="#1a1a1a" stroke="#fff" stroke-width="0.15" paint-order="fill stroke" textLength="14.04" lengthAdjust="spacingAndGlyphs">0.2</text>
<text x="115.85" y="595.50" font-size="10.10" fill="#1a1a1a" stroke="#fff" stroke-width="0.15" paint-order="fill stroke" textLength="13.97" lengthAdjust="spacingAndGlyphs">0.3</text>
<text x="142.05" y="595.50" font-size="10.10" fill="#1a1a1a" stroke="#fff" stroke-width="0.15" paint-order="fill stroke" textLength="13.82" lengthAdjust="spacingAndGlyphs">0.4</text>
<text x="168.24" y="595.50" font-size="10.10" fill="#1a1a1a" stroke="#fff" stroke-width="0.15" paint-order="fill stroke" textLength="13.95" lengthAdjust="spacingAndGlyphs">0.5</text>
<text x="194.43" y="595.50" font-size="10.10" fill="#1a1a1a" stroke="#fff" stroke-width="0.15" paint-order="fill stroke" textLength="13.97" lengthAdjust="spacingAndGlyphs">0.6</text>
<text x="220.63" y="595.50" font-size="10.10" fill="#1a1a1a" stroke="#fff" stroke-width="0.15" paint-order="fill stroke" textLength="14.04" lengthAdjust="spacingAndGlyphs">0.7</text>
<text x="246.82" y="595.50" font-size="10.10" fill="#1a1a1a" stroke="#fff" stroke-width="0.15" paint-order="fill stroke" textLength="13.97" lengthAdjust="spacingAndGlyphs">0.8</text>
<text x="273.01" y="595.50" font-size="10.10" fill="#1a1a1a" stroke="#fff" stroke-width="0.15" paint-order="fill stroke" textLength="14.01" lengthAdjust="spacingAndGlyphs">0.9</text>
<text x="304.03" y="595.50" font-size="10.10" fill="#1a1a1a" stroke="#fff" stroke-width="0.15" paint-order="fill stroke">1</text>
<text x="19.90" y="587.35" font-size="10.30" fill="#1a1a1a" stroke="#fff" stroke-width="0.15" paint-order="fill stroke" textLength="17.44" lengthAdjust="spacingAndGlyphs">400</text>
<text x="19.61" y="544.81" font-size="10.30" fill="#1a1a1a" stroke="#fff" stroke-width="0.15" paint-order="fill stroke" textLength="17.73" lengthAdjust="spacingAndGlyphs">600</text>
<text x="19.69" y="502.27" font-size="10.30" fill="#1a1a1a" stroke="#fff" stroke-width="0.15" paint-order="fill stroke" textLength="17.65" lengthAdjust="spacingAndGlyphs">800</text>
<text x="13.62" y="459.73" font-size="10.30" fill="#1a1a1a" stroke="#fff" stroke-width="0.15" paint-order="fill stroke" textLength="23.72" lengthAdjust="spacingAndGlyphs">1000</text>
<text x="13.62" y="417.19" font-size="10.30" fill="#1a1a1a" stroke="#fff" stroke-width="0.15" paint-order="fill stroke" textLength="23.72" lengthAdjust="spacingAndGlyphs">1200</text>
<text x="13.62" y="374.65" font-size="10.30" fill="#1a1a1a" stroke="#fff" stroke-width="0.15" paint-order="fill stroke" textLength="23.72" lengthAdjust="spacingAndGlyphs">1400</text>
<text x="269.73" y="609.30" font-size="14.30" fill="#1a1a1a" stroke="#fff" stroke-width="0.30" paint-order="fill stroke" textLength="32.69" lengthAdjust="spacingAndGlyphs">cos&#920;</text>
<text x="303.52" y="611.70" font-size="9.50" fill="#1a1a1a" stroke="#fff" stroke-width="0.10" paint-order="fill stroke">t</text>
<text transform="translate(13.87 404.8) rotate(-90)" font-size="13.3" fill="#1a1a1a" textLength="53" lengthAdjust="spacing" stroke="#fff" stroke-width="0.25" paint-order="fill stroke">M<tspan font-size="9.5" dy="3">t2</tspan><tspan dy="-3">(GeV)</tspan></text>
<text x="175.39" y="414.10" font-size="14.70" fill="#1a1a1a" stroke="#fff" stroke-width="0.22" paint-order="fill stroke" textLength="71.91" lengthAdjust="spacingAndGlyphs">EXCLUDED</text>
<text x="193.60" y="456.70" font-size="11.80" fill="#ff0000" stroke="#fff" stroke-width="0.17" paint-order="fill stroke" textLength="60.39" lengthAdjust="spacingAndGlyphs">CCB,&#956;=400</text>
<text x="70.53" y="541.80" font-size="11.80" fill="#ff0000" stroke="#fff" stroke-width="0.17" paint-order="fill stroke" textLength="60.86" lengthAdjust="spacingAndGlyphs">CCB,&#956;=800</text>
<text x="52.27" y="479.90" font-size="10.90" fill="#000" stroke="#fff" stroke-width="0.17" paint-order="fill stroke">M</text>
<text x="59.65" y="481.10" font-size="6.00" fill="#000" font-weight="bold">h</text>
<text x="63.42" y="479.90" font-size="10.90" fill="#000" stroke="#fff" stroke-width="0.17" paint-order="fill stroke">,</text>
<text x="70.97" y="479.90" font-size="10.90" fill="#000" stroke="#fff" stroke-width="0.17" paint-order="fill stroke" textLength="44.79" lengthAdjust="spacingAndGlyphs">tan&#946;=10</text>
<text x="52.27" y="491.00" font-size="10.90" fill="#ff00ff" stroke="#fff" stroke-width="0.17" paint-order="fill stroke">M</text>
<text x="59.65" y="492.20" font-size="6.00" fill="#ff00ff" font-weight="bold">h</text>
<text x="63.42" y="491.00" font-size="10.90" fill="#ff00ff" stroke="#fff" stroke-width="0.17" paint-order="fill stroke">,</text>
<text x="70.97" y="491.00" font-size="10.90" fill="#ff00ff" stroke="#fff" stroke-width="0.17" paint-order="fill stroke" textLength="48.16" lengthAdjust="spacingAndGlyphs">tan&#946;=2.5</text>
<text x="122.94" y="510.30" font-size="10.90" fill="#0000ff" stroke="#fff" stroke-width="0.17" paint-order="fill stroke" textLength="11.96" lengthAdjust="spacingAndGlyphs">&#916;&#961;</text>
<text x="175.45" y="566.70" font-size="11.60" fill="#ff0000" stroke="#fff" stroke-width="0.17" paint-order="fill stroke">M</text>
<text x="183.01" y="568.70" font-size="6.00" fill="#ff0000" font-weight="bold" textLength="6.28" lengthAdjust="spacingAndGlyphs">b1</text>
<text x="190.50" y="566.70" font-size="11.60" fill="#ff0000" stroke="#fff" stroke-width="0.17" paint-order="fill stroke" textLength="46.95" lengthAdjust="spacingAndGlyphs">=250GeV</text>
<text x="201.38" y="578.00" font-size="11.60" fill="#ff0000" stroke="#fff" stroke-width="0.17" paint-order="fill stroke">M</text>
<text x="209.75" y="580.00" font-size="6.00" fill="#ff0000" font-weight="bold" textLength="5.61" lengthAdjust="spacingAndGlyphs">b1</text>
<text x="216.57" y="578.00" font-size="11.60" fill="#ff0000" stroke="#fff" stroke-width="0.17" paint-order="fill stroke" textLength="40.48" lengthAdjust="spacingAndGlyphs">=80GeV</text>
</g>
</svg>
</body></html>
